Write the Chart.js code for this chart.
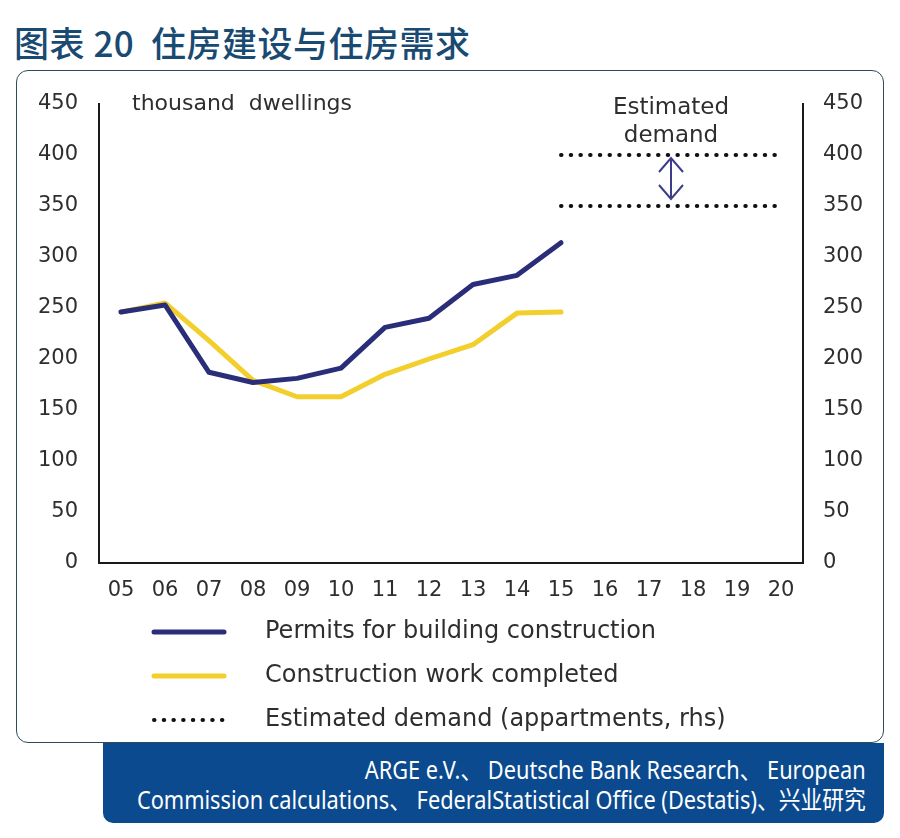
<!DOCTYPE html>
<html>
<head>
<meta charset="utf-8">
<script src="https://cdn.jsdelivr.net/npm/chart.js@4/dist/chart.umd.min.js"></script>
<style>
  body { margin: 0; width: 900px; height: 838px; background: #fff; position: relative; overflow: hidden; }
  #title { position: absolute; left: 14px; top: 16px; font: 500 35px "Noto Sans CJK SC", sans-serif; color: #194a72; letter-spacing: 0.5px; white-space: nowrap; }
  #box { position: absolute; left: 16px; top: 70px; width: 866px; height: 671px; border: 1.5px solid #2f4d58; border-radius: 12px; }
  #source { position: absolute; left: 103px; top: 743px; width: 781px; height: 80px; background: #0b4a8e; border-radius: 0 0 10px 10px;
            color: #fff; font: 25px "Noto Sans", "Noto Sans CJK SC", sans-serif; line-height: 30px; white-space: nowrap; }
  #source span { position: absolute; right: 18px; transform: scaleX(0.87); transform-origin: right center; }
  #chart { position: absolute; left: 0; top: 0; }
</style>
</head>
<body>
<div id="title">图表 20&nbsp; 住房建设与住房需求</div>
<div id="box"></div>
<div id="source"><span style="top: 11px">ARGE e.V.、 Deutsche Bank Research、 European</span><span style="top: 41px">Commission calculations、 FederalStatistical Office (Destatis)、兴业研究</span></div>
<canvas id="chart" width="900" height="838"></canvas>
<script>
// years 2005-2020, shown as two digits
const yearLabels = ['05', '06', '07', '08', '09', '10', '11', '12', '13', '14', '15', '16', '17', '18', '19', '20'];

// thousand dwellings
const permits   = [246, 253, 187, 177, 181, 191, 231, 240, 273, 282, 314, null, null, null, null, null];
const completed = [246, 255, 218, 179, 163, 163, 185, 200, 214, 245, 246, null, null, null, null, null];

// estimated demand band (appartments, rhs)
const demandHigh = [null, null, null, null, null, null, null, null, null, null, 400, 400, 400, 400, 400, 400];
const demandLow  = [null, null, null, null, null, null, null, null, null, null, 350, 350, 350, 350, 350, 350];

const yTicks = [0, 50, 100, 150, 200, 250, 300, 350, 400, 450];

const navy = '#2a2e78';
const yellow = '#f2cf2c';
const textColor = '#2e2e2e';
const fontFamily = '"DejaVu Sans", Verdana, sans-serif';
const tickFont = { family: fontFamily, size: 21 };

// legend + annotations drawn on the canvas
const extras = {
    id: 'extras',
    afterDraw(chart) {
        const ctx = chart.ctx;
        const x = chart.scales.x;
        const y = chart.scales.y1;
        ctx.save();
        ctx.fillStyle = textColor;
        ctx.font = '22px ' + fontFamily;
        ctx.textBaseline = 'middle';
        ctx.textAlign = 'left';
        ctx.fillText('thousand  dwellings', 132, 104);

        // estimated demand label and arrow, in the middle of the band
        const mid = x.getPixelForValue(12.5);
        ctx.font = '23px ' + fontFamily;
        ctx.textAlign = 'center';
        ctx.fillText('Estimated', mid, 108);
        ctx.fillText('demand', mid, 136);

        const top = y.getPixelForValue(demandHigh[15]) + 3;
        const bot = y.getPixelForValue(demandLow[15]) - 7;
        ctx.strokeStyle = '#3c3b8c';
        ctx.lineWidth = 2;
        ctx.beginPath();
        ctx.moveTo(mid, top); ctx.lineTo(mid, bot);
        ctx.moveTo(mid - 12, top + 14); ctx.lineTo(mid, top); ctx.lineTo(mid + 12, top + 14);
        ctx.moveTo(mid - 12, bot - 14); ctx.lineTo(mid, bot); ctx.lineTo(mid + 12, bot - 14);
        ctx.stroke();

        // legend
        const items = chart.data.datasets.slice(0, 3);
        const labels = ['Permits for building construction', 'Construction work completed', 'Estimated demand (appartments, rhs)'];
        ctx.font = '24px ' + fontFamily;
        ctx.textAlign = 'left';
        items.forEach((ds, i) => {
            const ly = 632 + i * 44;
            ctx.beginPath();
            ctx.strokeStyle = ds.borderColor;
            ctx.lineWidth = ds.borderWidth;
            ctx.lineCap = ds.borderCapStyle || 'butt';
            ctx.setLineDash(ds.borderDash || []);
            ctx.moveTo(154, ly);
            ctx.lineTo(224, ly);
            ctx.stroke();
            ctx.setLineDash([]);
            ctx.fillStyle = textColor;
            ctx.fillText(labels[i], 265, ly);
        });
        ctx.restore();
    }
};

new Chart(document.getElementById('chart'), {
    type: 'line',
    data: {
        labels: yearLabels,
        datasets: [
            { label: 'Permits for building construction', data: permits, borderColor: navy, borderWidth: 5, pointRadius: 0, yAxisID: 'y', borderCapStyle: 'round', borderJoinStyle: 'round' },
            { label: 'Construction work completed', data: completed, borderColor: yellow, borderWidth: 5, pointRadius: 0, yAxisID: 'y', borderCapStyle: 'round', borderJoinStyle: 'round' },
            { label: 'Estimated demand', data: demandHigh, borderColor: '#111', borderWidth: 4, borderDash: [0.5, 9.2], borderCapStyle: 'round', pointRadius: 0, yAxisID: 'y1' },
            { label: 'Estimated demand low', data: demandLow, borderColor: '#111', borderWidth: 4, borderDash: [0.5, 9.2], borderCapStyle: 'round', pointRadius: 0, yAxisID: 'y1' }
        ]
    },
    options: {
        responsive: false,
        animation: false,
        spanGaps: false,
        layout: { padding: { top: 104, left: 0, right: 0, bottom: 0 } },
        plugins: { legend: { display: false }, tooltip: { enabled: false } },
        scales: {
            x: {
                type: 'category',
                offset: true,
                grid: { display: false, drawTicks: false },
                border: { display: true, color: '#1a1a1a', width: 2 },
                ticks: { color: textColor, font: tickFont, padding: 15, maxRotation: 0, autoSkip: false },
                afterFit: (s) => { s.height = 838 - 563; }
            },
            y: {
                position: 'left',
                min: 0, max: 450,
                grid: { display: false, drawTicks: false },
                border: { display: true, color: '#1a1a1a', width: 2 },
                afterBuildTicks: (s) => { s.ticks = yTicks.map(v => ({ value: v })); },
                ticks: { color: textColor, font: tickFont, padding: 21 },
                afterFit: (s) => { s.width = 99; }
            },
            y1: {
                position: 'right',
                min: 0, max: 450,
                grid: { display: false, drawTicks: false },
                border: { display: true, color: '#1a1a1a', width: 2 },
                afterBuildTicks: (s) => { s.ticks = yTicks.map(v => ({ value: v })); },
                ticks: { color: textColor, font: tickFont, padding: 20 },
                afterFit: (s) => { s.width = 900 - 803; }
            }
        }
    },
    plugins: [extras]
});
</script>
</body>
</html>
